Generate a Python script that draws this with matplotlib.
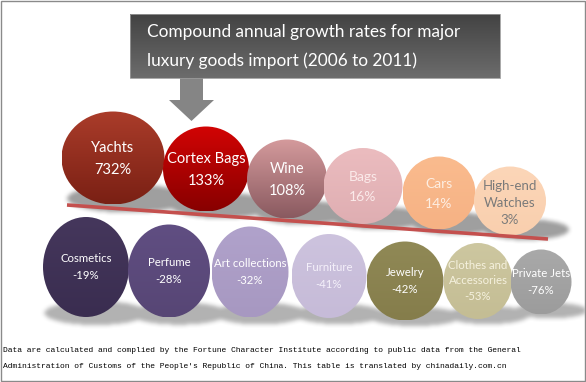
import numpy as np
import matplotlib
matplotlib.use("Agg")
import matplotlib.pyplot as plt
from matplotlib.patches import Ellipse, Rectangle, Polygon
from matplotlib.colors import to_rgb

# ---------------- data ----------------
title_lines = ["Compound annual growth rates for major",
               "luxury goods import (2006 to 2011)"]
top_categories = ["Yachts", "Cortex Bags", "Wine", "Bags", "Cars", "High-end\nWatches"]
top_values = [732, 133, 108, 16, 14, 3]
bottom_categories = ["Cosmetics", "Perfume", "Art collections", "Furniture",
                     "Jewelry", "Clothes and\nAccessories", "Private Jets"]
bottom_values = [-19, -28, -32, -41, -42, -53, -76]
footer_lines = [
    "Data are calculated and complied by the Fortune Character Institute according to public data from the General",
    "Administration of Customs of the People's Republic of China. This table is translated by chinadaily.com.cn",
]

# ---------------- layout / style ----------------
W, H = 586, 382
top_cx = [113, 206, 287, 363, 439, 510]
top_cy = [158, 169, 179, 186, 193, 201]
top_w = [103, 86, 80, 79, 73, 72]
top_h = [93, 85, 79, 76, 73, 69]
top_col_a = ["#aa3c2a", "#d20404", "#d49a9c", "#ebbcbf", "#fabb8e", "#fcd6b8"]
top_col_b = ["#7a2014", "#880000", "#8a5a60", "#dfaeb2", "#f6b284", "#f9cfae"]
top_txt = ["white", "white", "white", "#fbeaea", "#fdeee2", "#7a7a7a"]
top_fs = [10.5, 10.5, 10.5, 10, 10, 9.5]

bot_cx = [86, 169, 250, 329, 405, 478, 541]
bot_cy = [267, 271, 272, 276, 281, 281, 282]
bot_w = [86, 82, 77, 75, 77, 69, 61]
bot_h = [100, 93, 91, 84, 79, 76, 65]
bot_col_a = ["#45375c", "#604e82", "#b0a2cb", "#cdc3de", "#908956", "#cdc7a0", "#a9a9a9"]
bot_col_b = ["#3a2d50", "#574675", "#a798c1", "#c6bbd8", "#857d4b", "#c4bd94", "#9c9c9c"]
bot_txt = ["white", "white", "white", "#f4f0fa", "white", "#f5f1de", "white"]

fig = plt.figure(figsize=(W / 100, H / 100), dpi=100)
ax = fig.add_axes([0, 0, 1, 1])
ax.set_xlim(0, W)
ax.set_ylim(H, 0)
ax.axis("off")
fig.patch.set_facecolor("white")

FONT = ["Lato", "DejaVu Sans"]


def grad_ellipse(cx, cy, w, h, ca, cb, z):
    e = Ellipse((cx, cy), w, h, facecolor="none", edgecolor="none", zorder=z)
    ax.add_patch(e)
    t = np.linspace(0, 1, 64)[:, None, None]
    img = (1 - t) * np.array(to_rgb(ca)) + t * np.array(to_rgb(cb))
    img = np.repeat(img, 2, axis=1)
    im = ax.imshow(img, extent=(cx - w / 2, cx + w / 2, cy + h / 2, cy - h / 2),
                   origin="upper", interpolation="bilinear", aspect="auto", zorder=z)
    im.set_clip_path(e)


def blur(a, k, n=3):
    ker = np.ones(k) / k
    for _ in range(n):
        a = np.apply_along_axis(lambda r: np.convolve(r, ker, mode="same"), 1, a)
        a = np.apply_along_axis(lambda r: np.convolve(r, ker, mode="same"), 0, a)
    return a

# ---------------- shadows ----------------
yy, xx = np.mgrid[0:H, 0:W] + 0.5
sh = np.zeros((H, W))
for cx, cy, w, h in zip(top_cx, top_cy, top_w, top_h):
    scx, scy = cx + 16, cy + h / 2 - 6
    m = ((xx - scx) / (w * 0.6)) ** 2 + ((yy - scy) / (h * 0.15)) ** 2 <= 1
    sh[m] = np.maximum(sh[m], 0.75)
for cx, cy, w, h in zip(bot_cx, bot_cy, bot_w, bot_h):
    scx, scy = cx + 10, cy + h / 2 - 4
    m = ((xx - scx) / (w * 0.6)) ** 2 + ((yy - scy) / (h * 0.12)) ** 2 <= 1
    sh[m] = np.maximum(sh[m], 0.6)
sh = blur(sh, 5, 2)
rgba = np.zeros((H, W, 4))
rgba[..., :3] = 0.5
rgba[..., 3] = sh
ax.imshow(rgba, extent=(0, W, H, 0), origin="upper", interpolation="bilinear",
          aspect="auto", zorder=1)

# ---------------- title box + arrow ----------------
tb = Rectangle((130, 14), 370, 64, facecolor="none", edgecolor="#9a9a9a", lw=0.6, zorder=3)
ax.add_patch(tb)
t = np.linspace(0, 1, 64)[:, None, None]
img = (1 - t) * np.array(to_rgb("#434343")) + t * np.array(to_rgb("#6c6c6c"))
img = np.repeat(img, 2, axis=1)
ax.imshow(img, extent=(130, 500, 78, 14), origin="upper", aspect="auto",
          interpolation="bilinear", zorder=2)
ax.text(147, 32, title_lines[0], color="white", fontsize=12.4, family=FONT,
        ha="left", va="center", zorder=4)
ax.text(147, 61, title_lines[1], color="white", fontsize=12.4, family=FONT,
        ha="left", va="center", zorder=4)

arrow = Polygon([(180, 78), (203, 78), (203, 100), (214, 100), (191.5, 121),
                 (169, 100), (180, 100)], closed=True, facecolor="#858585",
                edgecolor="none", zorder=2)
ax.add_patch(arrow)

# ---------------- top row ----------------
for i, (cat, val) in enumerate(zip(top_categories, top_values)):
    grad_ellipse(top_cx[i], top_cy[i], top_w[i], top_h[i], top_col_a[i], top_col_b[i], 3)
    label = f"{cat}\n{val}%"
    ax.text(top_cx[i], top_cy[i] + (2 if "\n" in cat else 1), label, color=top_txt[i],
            fontsize=top_fs[i], family=FONT, ha="center", va="center",
            linespacing=1.75 if "\n" not in cat else 1.55, zorder=5)

# red trend line
ax.plot([67, 548], [205, 239], color="#c4504e", lw=2.6, solid_capstyle="butt", zorder=4)

# ---------------- bottom row ----------------
for i, (cat, val) in enumerate(zip(bottom_categories, bottom_values)):
    grad_ellipse(bot_cx[i], bot_cy[i], bot_w[i], bot_h[i], bot_col_a[i], bot_col_b[i], 3)
    label = f"{cat}\n{val}%"
    ax.text(bot_cx[i], bot_cy[i], label, color=bot_txt[i],
            fontsize=8.2, family=FONT, ha="center", va="center",
            linespacing=1.75 if "\n" not in cat else 1.5, zorder=5)

# ---------------- footer ----------------
ax.text(3, 351, footer_lines[0], fontsize=5.8, family=["Liberation Mono"],
        ha="left", va="center", color="black", zorder=5)
ax.text(3, 366, footer_lines[1], fontsize=5.8, family=["Liberation Mono"],
        ha="left", va="center", color="black", zorder=5)

# outer frame
ax.add_patch(Rectangle((0.5, 0.5), W - 1.5, H - 1.5, facecolor="none",
                       edgecolor="#8a8a8a", lw=1.0, zorder=6))

fig.savefig("out.png", dpi=100)
